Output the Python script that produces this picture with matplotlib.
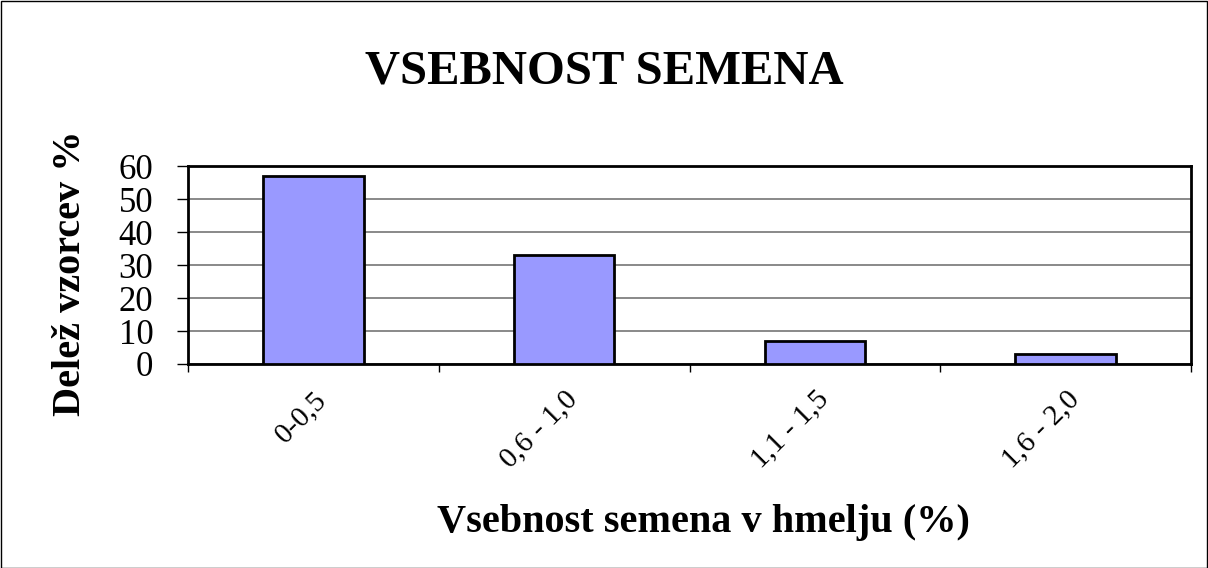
import matplotlib
matplotlib.use("Agg")
import matplotlib.pyplot as plt
from matplotlib.patches import Rectangle

categories = ["0-0,5", "0,6 - 1,0", "1,1 - 1,5", "1,6 - 2,0"]
values = [57, 33, 7, 3]
yticks = [0, 10, 20, 30, 40, 50, 60]

plt.rcParams['font.family'] = ['Liberation Serif', 'DejaVu Serif']

W, H = 1208, 568
fig = plt.figure(figsize=(W / 100, H / 100), dpi=100)
fig.patches.append(Rectangle((0.5 / W, 0.5 / H), 1 - 1.5 / W, 1 - 1.5 / H, transform=fig.transFigure,
                             fill=False, edgecolor='black', linewidth=1))
ax = fig.add_axes([188 / W, 1 - 364 / H, (1191 - 188) / W, (364 - 166) / H])

x = list(range(len(categories)))
ax.bar(x, values, width=0.4, color='#9999FF', edgecolor='black', linewidth=2, zorder=3)
ax.set_xlim(-0.5, len(categories) - 0.5)
ax.set_ylim(0, 60)
ax.set_yticks(yticks)
ax.set_yticklabels([str(v) for v in yticks], fontsize=25)
ax.yaxis.grid(True, color='#808080', linewidth=1.3, zorder=0)
ax.set_axisbelow(True)
ax.tick_params(axis='y', direction='out', length=8, width=1, pad=17)

ax.set_xticks([i - 0.5 for i in range(len(categories) + 1)])
ax.set_xticklabels([])
ax.tick_params(axis='x', which='major', direction='out', length=6, width=1)
ax.set_xticks(x, minor=True)
ax.set_xticklabels(categories, minor=True, rotation=45, ha='right', va='top',
                   rotation_mode='anchor', fontsize=21)
ax.tick_params(axis='x', which='minor', length=0, pad=16)

for s in ax.spines.values():
    s.set_linewidth(2)
    s.set_color('black')

fig.text(604.5 / W, 1 - 83 / H, "VSEBNOST SEMENA", ha='center', va='baseline',
         fontsize=35, fontweight='bold')
fig.text(70 / W, 1 - 273 / H, "Delež vzorcev %", ha='center', va='center',
         rotation=90, fontsize=29, fontweight='bold')
fig.text(703 / W, 1 - 532 / H, "Vsebnost semena v hmelju (%)", ha='center', va='baseline',
         fontsize=29, fontweight='bold')

fig.savefig("out.png", dpi=100)
